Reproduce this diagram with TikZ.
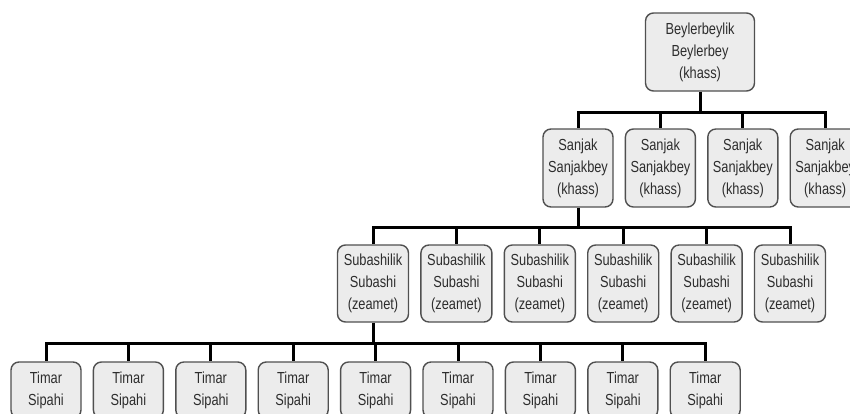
\documentclass[tikz,border=0pt]{standalone}
\usepackage{fontspec}
\setmainfont{Liberation Sans}[FakeStretch=0.8]
\usepackage{xcolor}
\definecolor{boxgray}{RGB}{236, 236, 236}
\definecolor{edgegray}{RGB}{80, 80, 80}
\definecolor{textgray}{RGB}{45, 45, 45}
\usetikzlibrary{positioning}

\begin{document}
\begin{tikzpicture}[
    x=1pt, y=1pt,
    node distance=11pt,
    office/.style={rectangle, draw=edgegray, fill=boxgray, line width=1.4pt,
                  minimum width=70pt, minimum height=78pt, align=center,
                  rounded corners=8pt, text=textgray, inner sep=0pt,
                  font=\fontsize{16}{22}\selectfont},
    timar/.style={office, minimum height=56pt},
    conn/.style={line width=3pt, black}
]
    \useasboundingbox (0,0) rectangle (850,-413);

    % Beylerbeylik
    \node[office, minimum width=109pt] (bey) at (700,-52) {Beylerbeylik\\Beylerbey\\(khass)};

    % Sanjaks
    \node[office] (san1) at (578,-168) {Sanjak\\Sanjakbey\\(khass)};
    \node[office, right=of san1] (san2) {Sanjak\\Sanjakbey\\(khass)};
    \node[office, right=of san2] (san3) {Sanjak\\Sanjakbey\\(khass)};
    \node[office, right=of san3] (san4) {Sanjak\\Sanjakbey\\(khass)};

    % Subashiliks
    \node[office, minimum width=71pt, minimum height=77pt] (sub1) at (373,-283.5) {Subashilik\\Subashi\\(zeamet)};
    \node[office, minimum width=71pt, minimum height=77pt, right=of sub1] (sub2) {Subashilik\\Subashi\\(zeamet)};
    \node[office, minimum width=71pt, minimum height=77pt, right=of sub2] (sub3) {Subashilik\\Subashi\\(zeamet)};
    \node[office, minimum width=71pt, minimum height=77pt, right=of sub3] (sub4) {Subashilik\\Subashi\\(zeamet)};
    \node[office, minimum width=71pt, minimum height=77pt, right=of sub4] (sub5) {Subashilik\\Subashi\\(zeamet)};
    \node[office, minimum width=71pt, minimum height=77pt, right=of sub5] (sub6) {Subashilik\\Subashi\\(zeamet)};

    % Timars
    \node[timar] (tim1) at (46,-390) {Timar\\Sipahi};
    \node[timar, right=of tim1] (tim2) {Timar\\Sipahi};
    \node[timar, right=of tim2] (tim3) {Timar\\Sipahi};
    \node[timar, right=of tim3] (tim4) {Timar\\Sipahi};
    \node[timar, right=of tim4] (tim5) {Timar\\Sipahi};
    \node[timar, right=of tim5] (tim6) {Timar\\Sipahi};
    \node[timar, right=of tim6] (tim7) {Timar\\Sipahi};
    \node[timar, right=of tim7] (tim8) {Timar\\Sipahi};
    \node[timar, right=of tim8] (tim9) {Timar\\Sipahi};

    % Bus points
    \path (bey.south) ++(0,-21) coordinate (bus1);
    \path (san1.south) ++(0,-20) coordinate (bus2);
    \path (sub1.south) ++(0,-20.5) coordinate (bus3);

    % Beylerbey to sanjaks
    \draw[conn] (bey.south) -- (bus1);
    \draw[conn] (bus1) -| (san1.north);
    \draw[conn] (bus1) -| (san2.north);
    \draw[conn] (bus1) -| (san3.north);
    \draw[conn] (bus1) -| (san4.north);

    % Sanjak to subashiliks
    \draw[conn] (san1.south) -- (bus2);
    \draw[conn] (bus2) -| (sub1.north);
    \draw[conn] (bus2) -| (sub2.north);
    \draw[conn] (bus2) -| (sub3.north);
    \draw[conn] (bus2) -| (sub4.north);
    \draw[conn] (bus2) -| (sub5.north);
    \draw[conn] (bus2) -| (sub6.north);

    % Subashilik to timars
    \draw[conn] (sub1.south) -- (bus3);
    \draw[conn] (bus3) -| (tim1.north);
    \draw[conn] (bus3) -| (tim2.north);
    \draw[conn] (bus3) -| (tim3.north);
    \draw[conn] (bus3) -| (tim4.north);
    \draw[conn] (bus3) -| (tim5.north);
    \draw[conn] (bus3) -| (tim6.north);
    \draw[conn] (bus3) -| (tim7.north);
    \draw[conn] (bus3) -| (tim8.north);
    \draw[conn] (bus3) -| (tim9.north);
\end{tikzpicture}
\end{document}
